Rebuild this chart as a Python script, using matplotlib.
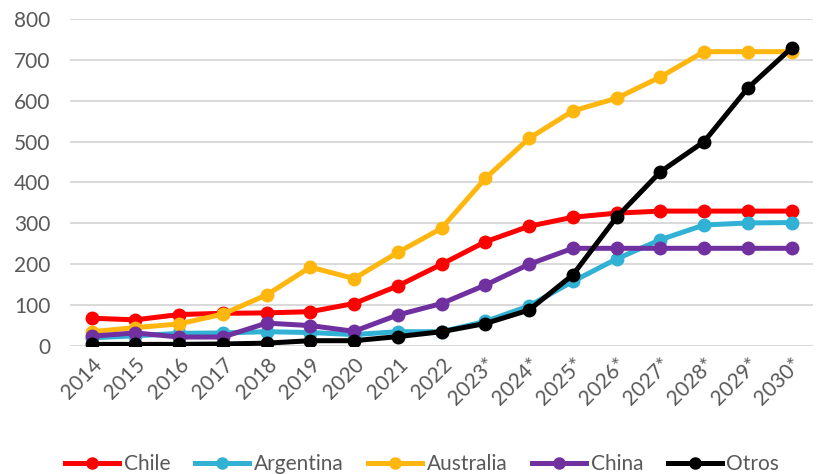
import matplotlib.pyplot as plt
from matplotlib.lines import Line2D

years = ["2014", "2015", "2016", "2017", "2018", "2019", "2020", "2021", "2022",
         "2023*", "2024*", "2025*", "2026*", "2027*", "2028*", "2029*", "2030*"]

chile = [68, 64, 77, 80, 81, 84, 104, 147, 200, 255, 293, 315, 325, 330, 330, 330, 330]
argentina = [20, 25, 31, 32, 35, 33, 28, 35, 35, 60, 98, 158, 213, 260, 296, 301, 302]
australia = [35, 45, 54, 78, 125, 193, 165, 229, 288, 410, 508, 575, 606, 658, 720, 720, 720]
china = [24, 32, 22, 22, 56, 50, 36, 76, 104, 149, 200, 239, 239, 239, 239, 239, 239]
otros = [4, 4, 4, 5, 7, 13, 13, 23, 35, 55, 88, 174, 315, 426, 500, 631, 729]

series = [
    ("Chile", chile, "#FF0000"),
    ("Argentina", argentina, "#31B1D3"),
    ("Australia", australia, "#FFB70F"),
    ("China", china, "#7030A0"),
    ("Otros", otros, "#000000"),
]

plt.rcParams["font.family"] = ["Lato", "DejaVu Sans"]
text_color = "#595959"

fig = plt.figure(figsize=(8.2, 4.74), dpi=100)
ax = fig.add_axes([0.085, 0.27, 0.907, 0.69])

x = list(range(len(years)))
for name, vals, color in series:
    ax.plot(x, vals, color=color, lw=3.6, marker="o", ms=9,
            solid_capstyle="round", label=name)

ax.set_xlim(-0.5, len(years) - 0.5)
ax.set_ylim(0, 800)
ax.set_yticks(range(0, 801, 100))
ax.set_xticks(x)
ax.set_xticklabels(years, rotation=45, ha="right", rotation_mode="anchor")
ax.tick_params(axis="both", length=0, labelsize=15, colors=text_color)
ax.tick_params(axis="y", pad=14)
ax.tick_params(axis="x", pad=6)

ax.grid(axis="y", color="#D9D9D9", lw=1.4)
ax.set_axisbelow(True)
for s in ax.spines.values():
    s.set_visible(False)

handles = [Line2D([0], [0], color=c, lw=3.6, marker="o", ms=8) for _, _, c in series]
fig.legend(handles, [n for n, _, _ in series], loc="lower center",
           bbox_to_anchor=(0.515, -0.04), ncol=5, frameon=False,
           fontsize=15, labelcolor=text_color, handlelength=2.6,
           handletextpad=0.2, columnspacing=1.2)

fig.savefig("out.png", dpi=100)
